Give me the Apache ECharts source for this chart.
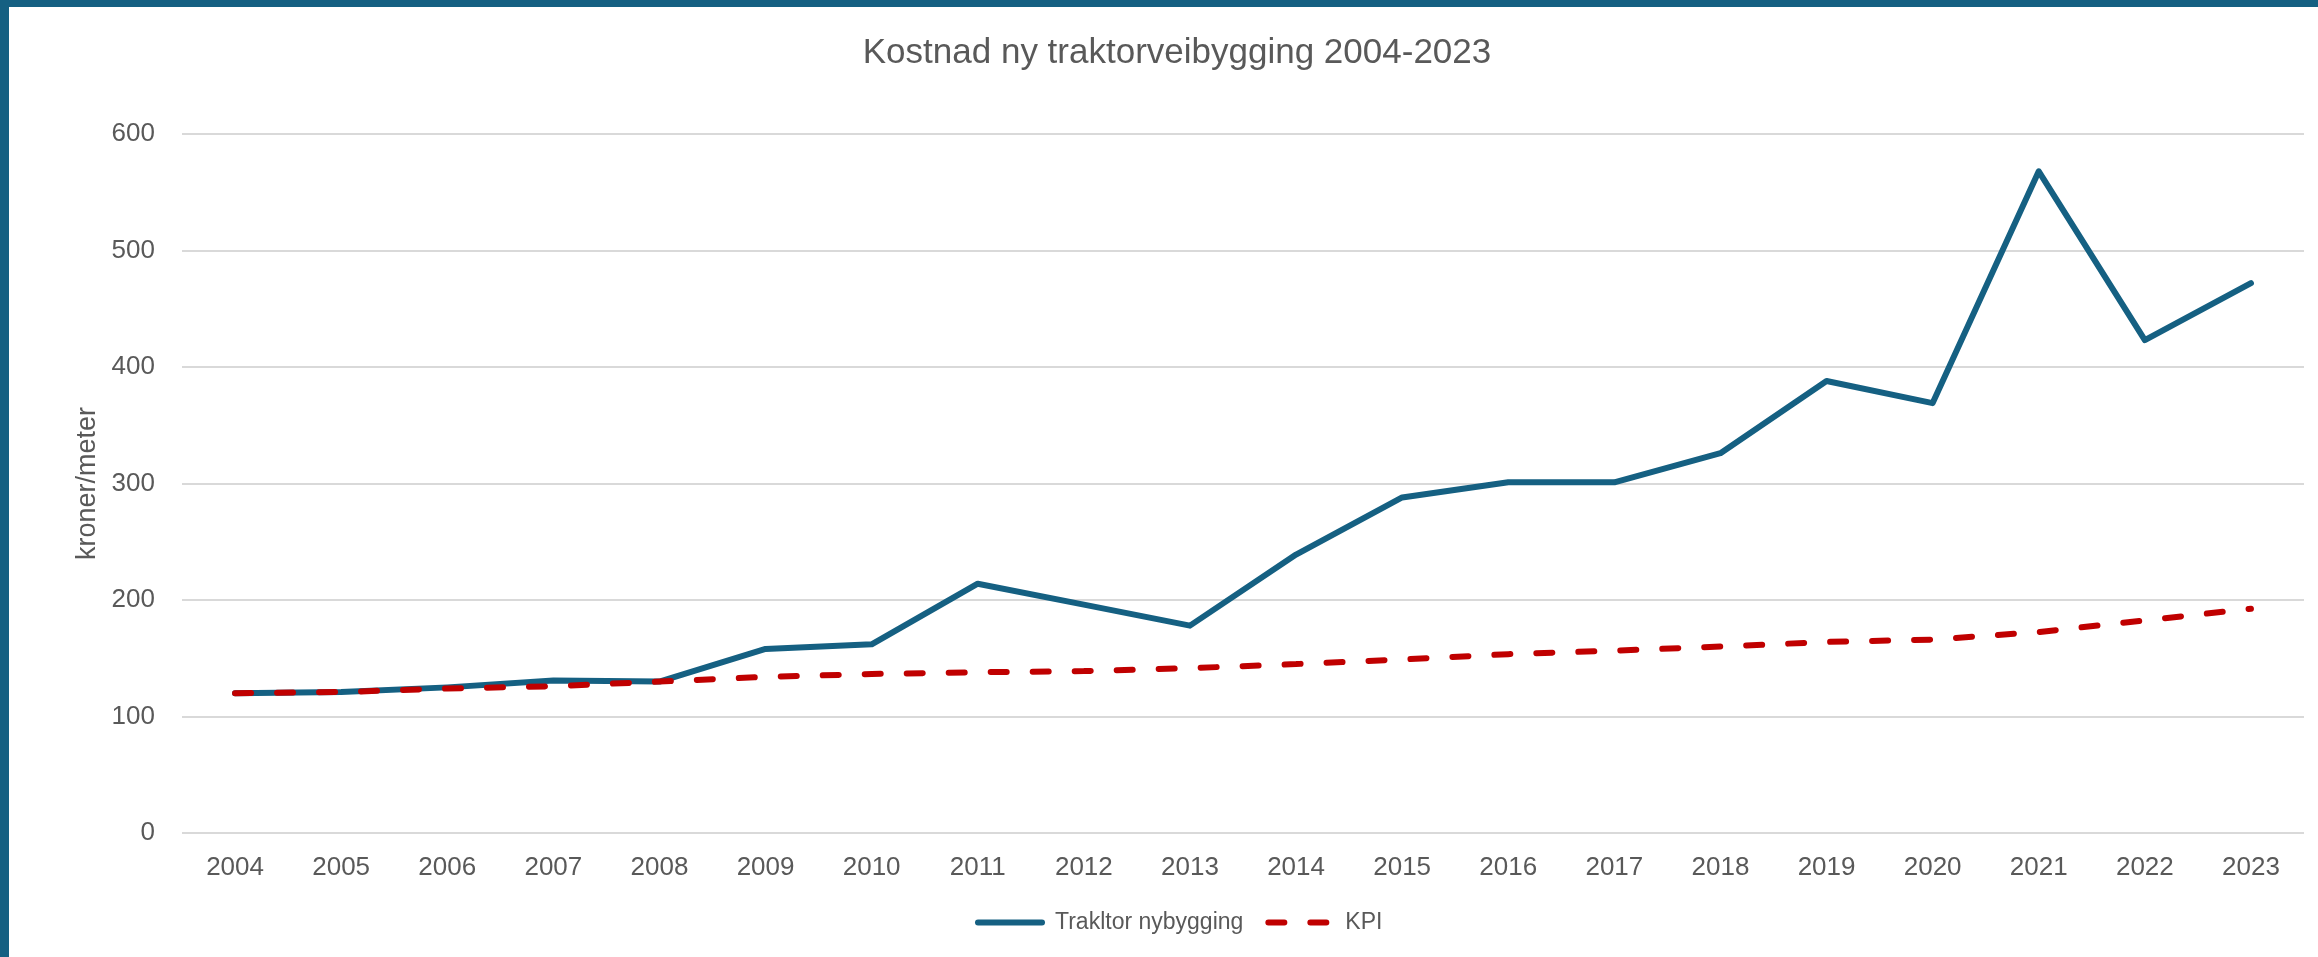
<!DOCTYPE html>
<html>
<head>
<meta charset="utf-8">
<title>Kostnad ny traktorveibygging 2004-2023</title>
<script src="https://cdn.jsdelivr.net/npm/echarts@6/dist/echarts.min.js"></script>
<style>
  html, body { margin: 0; padding: 0; background: #fff; }
  #chart { width: 2318px; height: 957px; }
</style>
</head>
<body>
<div id="chart"></div>
<script>
// år på x-aksen
const years = ["2004", "2005", "2006", "2007", "2008", "2009", "2010", "2011", "2012", "2013",
  "2014", "2015", "2016", "2017", "2018", "2019", "2020", "2021", "2022", "2023"];
// kroner/meter, lest av figuren
const traktor = [120, 121, 125, 131, 130, 158, 162, 214, 196, 178,
  239, 288, 301, 301, 326, 388, 369, 568, 423, 472];
const kpi = [120, 121, 124, 126, 130, 134, 136.5, 138, 139, 141.5,
  145, 149, 153.5, 156.5, 160, 164, 166, 172.5, 182.5, 192.5];
const yTicks = { min: 0, max: 600, interval: 100 };

const blue = "#156082";
const red = "#C00000";
const grey = "#595959";
const font = "'Liberation Sans', Arial, sans-serif";

const mychart = echarts.init(document.getElementById("chart"));
mychart.setOption({
  animation: false,
  backgroundColor: "#fff",
  textStyle: { fontFamily: font },
  // ramme oppe og til venstre
  graphic: [
    { type: "rect", shape: { x: 0, y: 0, width: 2318, height: 7 }, style: { fill: blue } },
    { type: "rect", shape: { x: 0, y: 0, width: 9, height: 957 }, style: { fill: blue } },
  ],
  title: {
    text: "Kostnad ny traktorveibygging 2004-2023",
    left: 1172,
    top: 31,
    textAlign: "center",
    textStyle: { color: grey, fontSize: 35, fontWeight: "normal", fontFamily: font },
  },
  legend: {
    left: 970,
    top: 906,
    itemWidth: 64,
    itemHeight: 20,
    itemGap: 22,
    itemStyle: { opacity: 0 },
    lineStyle: { width: 6, cap: "round" },
    textStyle: { color: grey, fontSize: 23, fontFamily: font, padding: [0, 0, 0, 8] },
    data: ["Trakltor nybygging", "KPI"],
  },
  grid: { left: 182, right: 14, top: 134, bottom: 124 },
  xAxis: {
    type: "category",
    data: years,
    boundaryGap: true,
    axisLine: { show: false },
    axisTick: { show: false },
    axisLabel: { color: grey, fontSize: 26, margin: 22 },
  },
  yAxis: {
    type: "value",
    min: yTicks.min,
    max: yTicks.max,
    interval: yTicks.interval,
    name: "kroner/meter",
    nameLocation: "middle",
    nameRotate: 90,
    nameGap: 79,
    nameTextStyle: { color: grey, fontSize: 27 },
    axisLine: { show: false },
    axisTick: { show: false },
    axisLabel: { color: grey, fontSize: 26, margin: 27 },
    splitLine: { lineStyle: { color: "#D9D9D9", width: 2 } },
  },
  series: [
    {
      name: "Trakltor nybygging",
      type: "line",
      data: traktor,
      symbol: "none",
      color: blue,
      lineStyle: { color: blue, width: 6, cap: "round", join: "round" },
      z: 2,
    },
    {
      name: "KPI",
      type: "line",
      data: kpi,
      symbol: "none",
      color: red,
      lineStyle: { color: red, width: 6, type: [16, 26], cap: "round" },
      z: 3,
    },
  ],
});
</script>
</body>
</html>
